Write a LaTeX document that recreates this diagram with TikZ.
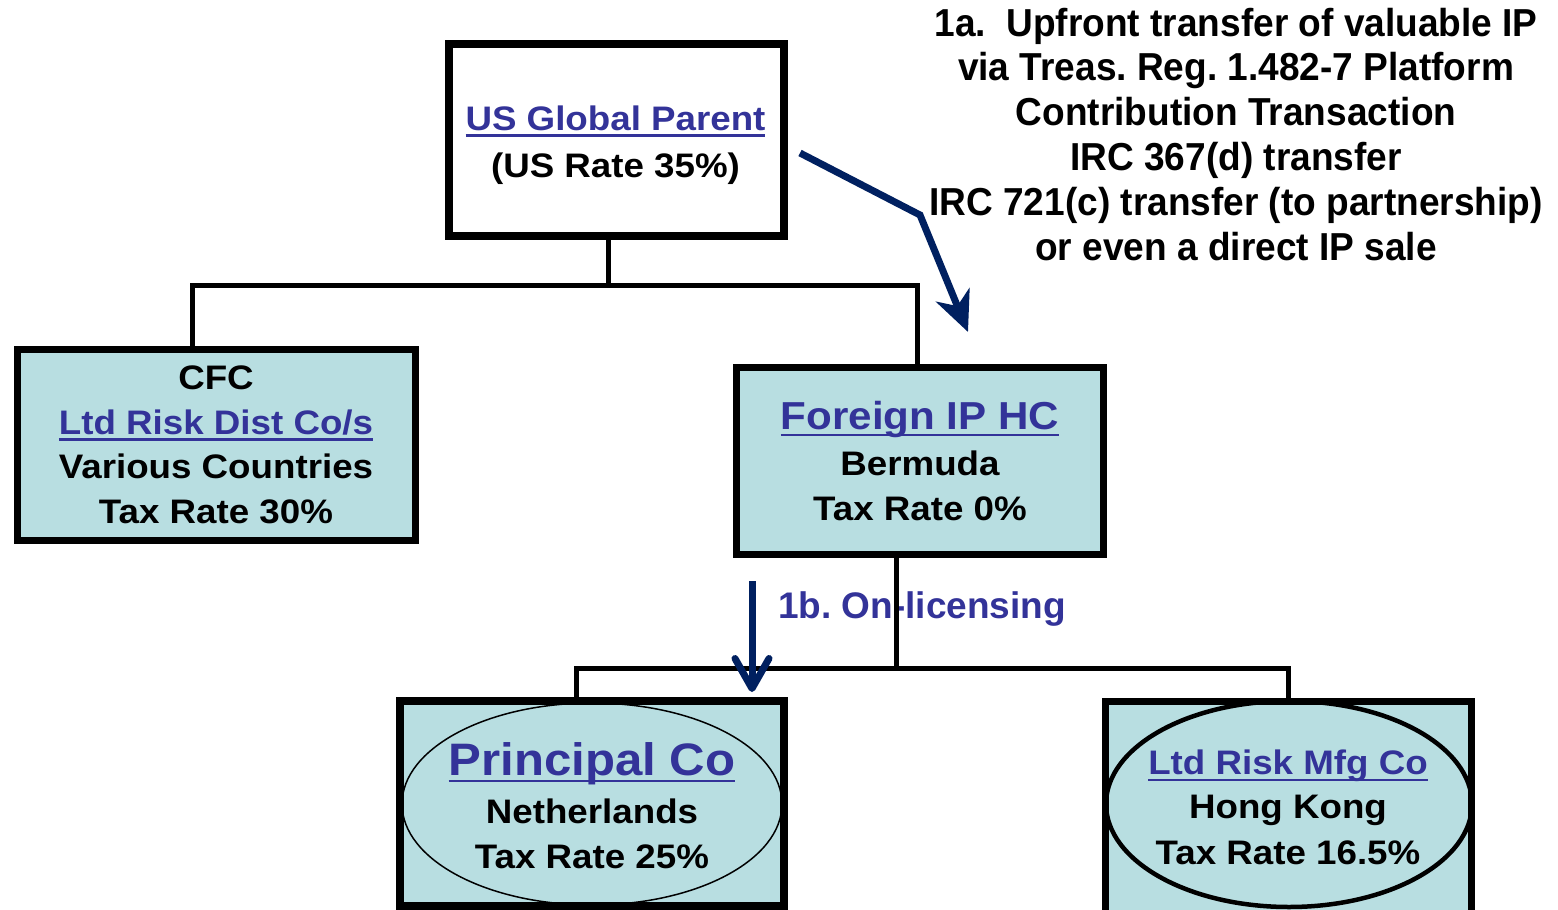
\documentclass[tikz,border=0pt]{standalone}
\usepackage{fontspec}
\setmainfont{Liberation Sans}
\newfontfamily\boxfont{Liberation Sans}[FakeStretch=1.08]
\newfontfamily\notefont{Liberation Sans}[FakeStretch=0.95]
\usetikzlibrary{arrows.meta,shapes.geometric}
\definecolor{teal1}{RGB}{184,222,225}
\definecolor{tblue}{RGB}{51,51,153}
\definecolor{navy}{RGB}{0,32,96}
\newcommand\ulin[1]{\setbox0\hbox{#1}\rlap{\copy0}\rule[-6.5pt]{\wd0}{2.3pt}}
\frenchspacing
\begin{document}
\begin{tikzpicture}[x=1pt,y=-1pt,
  box/.style={draw=black, fill=teal1, rectangle, inner sep=0pt, outer sep=0pt, line width=7pt},
  oval/.style={ellipse, draw=black, inner sep=0pt, outer sep=0pt},
  wire/.style={draw=black, line width=5pt},
  txt/.style={anchor=base, align=center, inner sep=0pt, font=\boxfont\bfseries\fontsize{34}{44.5}\selectfont},
  flow/.style={draw=navy, line width=7pt},
]
\useasboundingbox (0,0) rectangle (1558,910);
\clip (0,0) rectangle (1558,910);

% boxes
\node[box, fill=white, line width=8pt, minimum width=335pt, minimum height=192pt] (parent) at (616.5,140) {};
\node[box, minimum width=398.5pt, minimum height=191pt] (cfc) at (216.25,444.5) {};
\node[box, minimum width=367.5pt, minimum height=187.5pt] (foreign) at (919.75,460.75) {};
\node[box, line width=8pt, minimum width=384pt, minimum height=205pt] (principal) at (592,803.5) {};
\node[box, minimum width=366.5pt, minimum height=217pt] (mfg) at (1288.25,809.5) {};
\node[oval, line width=1.5pt, minimum width=380pt, minimum height=202pt] (pell) at (592,804) {};
\node[oval, line width=4.5pt, minimum width=366pt, minimum height=206pt] (mell) at (1289,804) {};

% texts (anchor base = baseline of the last line)
\node[txt] (parentT) at (615.5,177) {{\color{tblue}\ulin{US Global Parent}}\\[2.5pt](US Rate 35\%)};
\node[txt] (cfcT) at (216,523) {CFC\\{\color{tblue}\ulin{Ltd Risk Dist Co/s}}\\Various Countries\\Tax Rate 30\%};
\node[txt] (foreignT) at (920,520) {{\color{tblue}\fontsize{39}{44.5}\selectfont\ulin{Foreign IP HC}}\\[1.5pt]Bermuda\\Tax Rate 0\%};
\node[txt] (principalT) at (592,868) {{\color{tblue}\fontsize{45.5}{44.5}\selectfont\ulin{Principal Co}}\\[3.5pt]Netherlands\\Tax Rate 25\%};
\node[txt] (mfgT) at (1288,864) {{\color{tblue}\ulin{Ltd Risk Mfg Co}}\\[-1pt]Hong Kong\\[1.5pt]Tax Rate 16.5\%};

\node[anchor=base, align=center, inner sep=0pt, font=\notefont\bfseries\fontsize{39}{44.8}\selectfont] (note) at (1236,260)
  {1a.\ \ Upfront transfer of valuable IP\\via Treas. Reg. 1.482-7 Platform\\Contribution Transaction\\IRC 367(d) transfer\\IRC 721(c) transfer (to partnership)\\or even a direct IP sale};
\node[anchor=base west, inner sep=0pt, font=\bfseries\fontsize{37}{44}\selectfont, text=tblue] (lic) at (778,618) {1b. On-licensing};

% connectors
\coordinate (jt) at (608,285);
\coordinate (jl) at (192,285);
\coordinate (jr) at (917,285);
\draw[wire] (parent.south -| jt) -- (jt);
\draw[wire] (cfc.north -| jl) -- (jl) -- (jr) -- (foreign.north -| jr);

\coordinate (kt) at (896,668);
\coordinate (kl) at (576,668);
\coordinate (kr) at (1288,668);
\draw[wire] (foreign.south -| kt) -- (kt);
\draw[wire] (principal.north -| kl) -- (kl) -- (kr) -- (mfg.north -| kr);

% flow arrows
\coordinate (a1) at (800,153);
\coordinate (a2) at (920,215);
\coordinate (a3) at (968,332);
\draw[flow, -{Stealth[length=40pt,width=36pt,inset=12pt]}] (a1) -- (a2) -- (a3);

\coordinate (b1) at (752,581);
\coordinate (b2) at (752,692);
\draw[flow, -{Straight Barb[length=30pt,width=34pt,round]}] (b1) -- (b2);
\end{tikzpicture}
\end{document}
